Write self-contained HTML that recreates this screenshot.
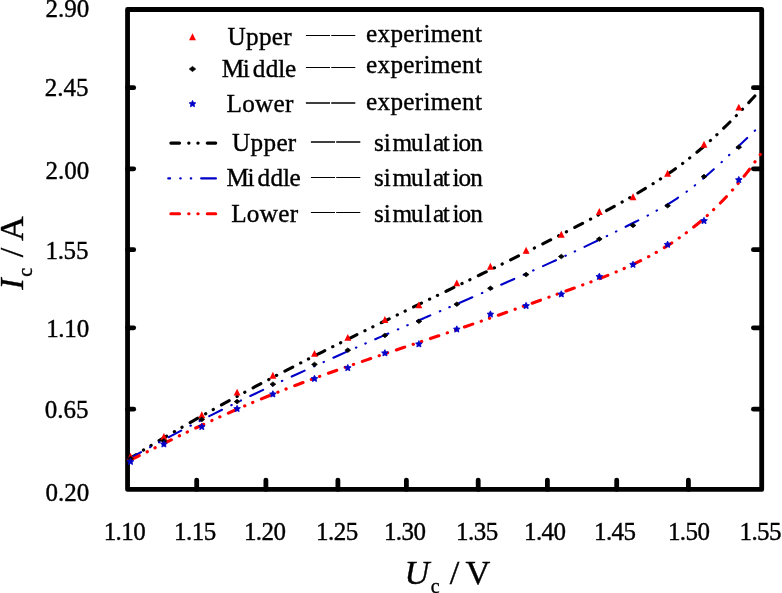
<!DOCTYPE html>
<html><head><meta charset="utf-8"><title>Ic - Uc</title>
<style>html,body{margin:0;padding:0;background:#fff;overflow:hidden;}svg{display:block;will-change:transform;}text{font-family:"Liberation Serif",serif;fill:#000;stroke:#000;stroke-width:0.38px;}</style></head>
<body>
<svg width="782" height="593" viewBox="0 0 782 593">
<rect x="0" y="0" width="782" height="593" fill="#fff"/>
<g fill="none" stroke="#000" stroke-width="4.80" stroke-linecap="round" stroke-linejoin="round">
<rect x="127.55" y="9.50" width="634.15" height="479.90"/>
<path d="M127.55 87.65 H133.70"/>
<path d="M761.70 87.65 H753.40"/>
<path d="M127.55 168.80 H133.70"/>
<path d="M761.70 168.80 H753.40"/>
<path d="M127.55 249.70 H133.70"/>
<path d="M761.70 249.70 H753.40"/>
<path d="M127.55 327.85 H133.70"/>
<path d="M761.70 327.85 H753.40"/>
<path d="M127.55 409.20 H133.70"/>
<path d="M761.70 409.20 H753.40"/>
<path d="M196.70 489.40 V480.10"/>
<path d="M265.90 489.40 V480.10"/>
<path d="M337.90 489.40 V480.10"/>
<path d="M406.40 489.40 V480.10"/>
<path d="M478.20 489.40 V480.10"/>
<path d="M547.40 489.40 V480.10"/>
<path d="M616.70 489.40 V480.10"/>
<path d="M688.40 489.40 V480.10"/>
</g>
<g fill="none" stroke-linecap="round" stroke-linejoin="round">
<path d="M128.50 459.24 C130.84 457.80 137.88 453.46 142.57 450.61 C147.26 447.76 151.94 444.93 156.63 442.14 C161.32 439.34 166.01 436.57 170.70 433.82 C175.39 431.07 180.08 428.35 184.77 425.65 C189.46 422.95 194.14 420.27 198.83 417.61 C203.52 414.96 208.21 412.33 212.90 409.72 C217.59 407.10 222.28 404.51 226.97 401.94 C231.66 399.37 236.34 396.82 241.03 394.28 C245.72 391.75 250.41 389.23 255.10 386.73 C259.79 384.23 264.48 381.75 269.17 379.29 C273.86 376.82 278.54 374.37 283.23 371.94 C287.92 369.50 292.61 367.08 297.30 364.67 C301.99 362.26 306.68 359.87 311.37 357.49 C316.06 355.10 320.74 352.73 325.43 350.37 C330.12 348.01 334.81 345.66 339.50 343.32 C344.19 340.98 348.88 338.66 353.57 336.33 C358.26 334.01 362.94 331.70 367.63 329.39 C372.32 327.09 377.01 324.79 381.70 322.49 C386.39 320.20 391.08 317.91 395.77 315.63 C400.46 313.34 405.14 311.07 409.83 308.79 C414.52 306.51 419.21 304.24 423.90 301.97 C428.59 299.70 433.28 297.43 437.97 295.17 C442.66 292.90 447.34 290.63 452.03 288.37 C456.72 286.10 461.41 283.83 466.10 281.56 C470.79 279.29 475.48 277.02 480.17 274.74 C484.86 272.46 489.54 270.18 494.23 267.88 C498.92 265.59 503.61 263.30 508.30 260.99 C512.99 258.68 517.68 256.37 522.37 254.04 C527.06 251.71 531.74 249.37 536.43 247.02 C541.12 244.66 545.81 242.30 550.50 239.91 C555.19 237.53 559.88 235.13 564.57 232.72 C569.26 230.30 573.94 227.87 578.63 225.41 C583.32 222.96 588.01 220.48 592.70 217.98 C597.39 215.49 602.08 212.97 606.77 210.42 C611.46 207.87 616.14 205.32 620.83 202.70 C625.52 200.08 630.21 197.44 634.90 194.71 C639.59 191.97 644.28 189.19 648.97 186.29 C653.66 183.38 658.34 180.41 663.03 177.28 C667.72 174.15 672.41 170.93 677.10 167.53 C681.79 164.13 686.48 160.60 691.17 156.88 C695.86 153.15 700.54 149.26 705.23 145.18 C709.92 141.09 714.61 136.81 719.30 132.39 C723.99 127.96 728.68 123.36 733.37 118.63 C738.06 113.90 742.74 109.01 747.43 104.03 C752.12 99.04 759.16 91.26 761.50 88.71" stroke="#000" stroke-width="3.1" stroke-dashoffset="0.2" stroke-dasharray="8.85 8.85 0.3 8.45 0.3 9.2"/>
<path d="M128.50 459.22 C130.84 457.91 137.88 453.94 142.57 451.35 C147.26 448.75 151.95 446.19 156.64 443.64 C161.33 441.10 166.02 438.59 170.71 436.10 C175.40 433.61 180.09 431.14 184.78 428.70 C189.47 426.26 194.15 423.84 198.84 421.44 C203.53 419.05 208.22 416.67 212.91 414.32 C217.60 411.97 222.29 409.64 226.98 407.33 C231.67 405.01 236.36 402.72 241.05 400.45 C245.74 398.17 250.43 395.92 255.12 393.68 C259.81 391.44 264.50 389.22 269.19 387.02 C273.88 384.81 278.57 382.62 283.26 380.44 C287.95 378.27 292.64 376.11 297.33 373.96 C302.02 371.81 306.71 369.68 311.40 367.55 C316.09 365.43 320.77 363.32 325.46 361.21 C330.15 359.11 334.84 357.02 339.53 354.94 C344.22 352.86 348.91 350.78 353.60 348.72 C358.29 346.65 362.98 344.60 367.67 342.54 C372.36 340.49 377.05 338.45 381.74 336.41 C386.43 334.37 391.12 332.33 395.81 330.30 C400.50 328.27 405.19 326.24 409.88 324.22 C414.57 322.19 419.26 320.17 423.95 318.15 C428.64 316.13 433.33 314.11 438.02 312.09 C442.71 310.06 447.39 308.04 452.08 306.02 C456.77 304.00 461.46 301.98 466.15 299.95 C470.84 297.92 475.53 295.89 480.22 293.85 C484.91 291.81 489.60 289.77 494.29 287.72 C498.98 285.67 503.67 283.61 508.36 281.54 C513.05 279.48 517.74 277.40 522.43 275.31 C527.12 273.23 531.81 271.13 536.50 269.01 C541.19 266.90 545.88 264.78 550.57 262.64 C555.26 260.50 559.95 258.34 564.64 256.17 C569.33 253.99 574.01 251.81 578.70 249.60 C583.39 247.39 588.08 245.16 592.77 242.91 C597.46 240.66 602.15 238.39 606.84 236.10 C611.53 233.81 616.22 231.49 620.91 229.15 C625.60 226.81 630.29 224.45 634.98 222.06 C639.67 219.66 644.36 217.28 649.05 214.77 C653.74 212.26 658.43 209.74 663.12 206.99 C667.81 204.24 672.50 201.40 677.19 198.27 C681.88 195.14 686.57 191.79 691.26 188.20 C695.95 184.61 700.63 180.71 705.32 176.71 C710.01 172.70 714.70 168.46 719.39 164.17 C724.08 159.88 728.77 155.42 733.46 150.99 C738.15 146.55 742.84 142.01 747.53 137.56 C752.22 133.12 759.26 126.51 761.60 124.30" stroke="#0000c8" stroke-width="2.1" stroke-dasharray="14.25 10.4 0.5 9.8 0.5 10.3"/>
<path d="M128.50 461.11 C130.84 459.93 137.87 456.39 142.56 454.04 C147.25 451.69 151.93 449.34 156.62 447.01 C161.31 444.68 165.99 442.36 170.68 440.07 C175.37 437.77 180.05 435.49 184.74 433.24 C189.43 430.98 194.11 428.75 198.80 426.55 C203.49 424.35 208.17 422.17 212.86 420.03 C217.55 417.88 222.23 415.77 226.92 413.68 C231.61 411.60 236.29 409.55 240.98 407.52 C245.67 405.50 250.35 403.50 255.04 401.54 C259.73 399.58 264.41 397.65 269.10 395.75 C273.79 393.85 278.47 391.98 283.16 390.14 C287.85 388.30 292.53 386.50 297.22 384.72 C301.91 382.94 306.59 381.19 311.28 379.46 C315.97 377.73 320.65 376.03 325.34 374.34 C330.03 372.66 334.71 371.00 339.40 369.35 C344.09 367.70 348.77 366.07 353.46 364.46 C358.15 362.84 362.83 361.24 367.52 359.64 C372.21 358.05 376.89 356.47 381.58 354.89 C386.27 353.31 390.95 351.74 395.64 350.17 C400.33 348.61 405.01 347.04 409.70 345.48 C414.39 343.91 419.07 342.35 423.76 340.78 C428.45 339.21 433.13 337.64 437.82 336.06 C442.51 334.48 447.19 332.90 451.88 331.30 C456.57 329.70 461.25 328.09 465.94 326.48 C470.63 324.86 475.31 323.24 480.00 321.61 C484.69 319.98 489.37 318.34 494.06 316.69 C498.75 315.05 503.43 313.39 508.12 311.74 C512.81 310.08 517.49 308.41 522.18 306.74 C526.87 305.07 531.55 303.40 536.24 301.72 C540.93 300.04 545.61 298.36 550.30 296.67 C554.99 294.99 559.67 293.30 564.36 291.60 C569.05 289.91 573.73 288.23 578.42 286.51 C583.11 284.80 587.79 283.10 592.48 281.33 C597.17 279.56 601.85 277.77 606.54 275.89 C611.23 274.02 615.91 272.09 620.60 270.06 C625.29 268.02 629.97 265.91 634.66 263.66 C639.35 261.41 644.03 259.06 648.72 256.55 C653.41 254.03 658.09 251.40 662.78 248.57 C667.47 245.73 672.15 242.76 676.84 239.54 C681.53 236.33 686.21 232.94 690.90 229.29 C695.59 225.63 700.27 221.77 704.96 217.62 C709.65 213.46 714.33 209.07 719.02 204.36 C723.71 199.64 728.39 194.66 733.08 189.33 C737.77 183.99 742.45 178.36 747.14 172.35 C751.83 166.33 758.86 156.43 761.20 153.24" stroke="#ff0000" stroke-width="3.1" stroke-dashoffset="-3.1" stroke-dasharray="8.85 8.85 0.3 8.45 0.3 9.16"/>
</g>
<g>
<path d="M130.50 452.85 L133.95 459.75 L127.05 459.75 Z" fill="#ff0000"/>
<path d="M163.90 432.95 L167.35 439.85 L160.45 439.85 Z" fill="#ff0000"/>
<path d="M201.80 411.25 L205.25 418.15 L198.35 418.15 Z" fill="#ff0000"/>
<path d="M237.10 388.65 L240.55 395.55 L233.65 395.55 Z" fill="#ff0000"/>
<path d="M272.90 371.85 L276.35 378.75 L269.45 378.75 Z" fill="#ff0000"/>
<path d="M314.50 349.95 L317.95 356.85 L311.05 356.85 Z" fill="#ff0000"/>
<path d="M347.80 333.95 L351.25 340.85 L344.35 340.85 Z" fill="#ff0000"/>
<path d="M384.90 316.05 L388.35 322.95 L381.45 322.95 Z" fill="#ff0000"/>
<path d="M418.90 301.45 L422.35 308.35 L415.45 308.35 Z" fill="#ff0000"/>
<path d="M456.80 279.45 L460.25 286.35 L453.35 286.35 Z" fill="#ff0000"/>
<path d="M490.40 262.75 L493.85 269.65 L486.95 269.65 Z" fill="#ff0000"/>
<path d="M526.10 246.75 L529.55 253.65 L522.65 253.65 Z" fill="#ff0000"/>
<path d="M561.30 230.85 L564.75 237.75 L557.85 237.75 Z" fill="#ff0000"/>
<path d="M599.30 208.05 L602.75 214.95 L595.85 214.95 Z" fill="#ff0000"/>
<path d="M633.00 193.35 L636.45 200.25 L629.55 200.25 Z" fill="#ff0000"/>
<path d="M667.60 169.85 L671.05 176.75 L664.15 176.75 Z" fill="#ff0000"/>
<path d="M704.00 140.75 L707.45 147.65 L700.55 147.65 Z" fill="#ff0000"/>
<path d="M738.80 103.65 L742.25 110.55 L735.35 110.55 Z" fill="#ff0000"/>
<path d="M130.50 456.25 L133.35 458.50 L130.50 460.75 L127.65 458.50 Z" fill="#000" stroke="#000" stroke-width="0.8" stroke-linejoin="round"/>
<path d="M163.90 438.65 L166.75 440.90 L163.90 443.15 L161.05 440.90 Z" fill="#000" stroke="#000" stroke-width="0.8" stroke-linejoin="round"/>
<path d="M201.80 417.15 L204.65 419.40 L201.80 421.65 L198.95 419.40 Z" fill="#000" stroke="#000" stroke-width="0.8" stroke-linejoin="round"/>
<path d="M237.10 399.35 L239.95 401.60 L237.10 403.85 L234.25 401.60 Z" fill="#000" stroke="#000" stroke-width="0.8" stroke-linejoin="round"/>
<path d="M272.90 381.95 L275.75 384.20 L272.90 386.45 L270.05 384.20 Z" fill="#000" stroke="#000" stroke-width="0.8" stroke-linejoin="round"/>
<path d="M314.50 362.15 L317.35 364.40 L314.50 366.65 L311.65 364.40 Z" fill="#000" stroke="#000" stroke-width="0.8" stroke-linejoin="round"/>
<path d="M347.80 347.95 L350.65 350.20 L347.80 352.45 L344.95 350.20 Z" fill="#000" stroke="#000" stroke-width="0.8" stroke-linejoin="round"/>
<path d="M384.90 333.15 L387.75 335.40 L384.90 337.65 L382.05 335.40 Z" fill="#000" stroke="#000" stroke-width="0.8" stroke-linejoin="round"/>
<path d="M418.90 319.05 L421.75 321.30 L418.90 323.55 L416.05 321.30 Z" fill="#000" stroke="#000" stroke-width="0.8" stroke-linejoin="round"/>
<path d="M456.80 301.95 L459.65 304.20 L456.80 306.45 L453.95 304.20 Z" fill="#000" stroke="#000" stroke-width="0.8" stroke-linejoin="round"/>
<path d="M490.40 286.05 L493.25 288.30 L490.40 290.55 L487.55 288.30 Z" fill="#000" stroke="#000" stroke-width="0.8" stroke-linejoin="round"/>
<path d="M526.10 272.35 L528.95 274.60 L526.10 276.85 L523.25 274.60 Z" fill="#000" stroke="#000" stroke-width="0.8" stroke-linejoin="round"/>
<path d="M561.30 254.25 L564.15 256.50 L561.30 258.75 L558.45 256.50 Z" fill="#000" stroke="#000" stroke-width="0.8" stroke-linejoin="round"/>
<path d="M599.30 236.85 L602.15 239.10 L599.30 241.35 L596.45 239.10 Z" fill="#000" stroke="#000" stroke-width="0.8" stroke-linejoin="round"/>
<path d="M633.00 223.15 L635.85 225.40 L633.00 227.65 L630.15 225.40 Z" fill="#000" stroke="#000" stroke-width="0.8" stroke-linejoin="round"/>
<path d="M667.60 203.45 L670.45 205.70 L667.60 207.95 L664.75 205.70 Z" fill="#000" stroke="#000" stroke-width="0.8" stroke-linejoin="round"/>
<path d="M704.00 174.35 L706.85 176.60 L704.00 178.85 L701.15 176.60 Z" fill="#000" stroke="#000" stroke-width="0.8" stroke-linejoin="round"/>
<path d="M738.80 144.95 L741.65 147.20 L738.80 149.45 L735.95 147.20 Z" fill="#000" stroke="#000" stroke-width="0.8" stroke-linejoin="round"/>
<path d="M130.50 458.23 L131.53 460.32 L133.83 460.65 L132.16 462.28 L132.56 464.57 L130.50 463.48 L128.44 464.57 L128.84 462.28 L127.17 460.65 L129.47 460.32 Z" fill="#0000c8" stroke="#0000c8" stroke-width="0.8" stroke-linejoin="round"/>
<path d="M163.90 440.73 L164.93 442.82 L167.23 443.15 L165.56 444.78 L165.96 447.07 L163.90 445.98 L161.84 447.07 L162.24 444.78 L160.57 443.15 L162.87 442.82 Z" fill="#0000c8" stroke="#0000c8" stroke-width="0.8" stroke-linejoin="round"/>
<path d="M201.80 423.33 L202.83 425.42 L205.13 425.75 L203.46 427.38 L203.86 429.67 L201.80 428.58 L199.74 429.67 L200.14 427.38 L198.47 425.75 L200.77 425.42 Z" fill="#0000c8" stroke="#0000c8" stroke-width="0.8" stroke-linejoin="round"/>
<path d="M237.10 405.33 L238.13 407.42 L240.43 407.75 L238.76 409.38 L239.16 411.67 L237.10 410.58 L235.04 411.67 L235.44 409.38 L233.77 407.75 L236.07 407.42 Z" fill="#0000c8" stroke="#0000c8" stroke-width="0.8" stroke-linejoin="round"/>
<path d="M272.90 390.73 L273.93 392.82 L276.23 393.15 L274.56 394.78 L274.96 397.07 L272.90 395.98 L270.84 397.07 L271.24 394.78 L269.57 393.15 L271.87 392.82 Z" fill="#0000c8" stroke="#0000c8" stroke-width="0.8" stroke-linejoin="round"/>
<path d="M314.50 375.23 L315.53 377.32 L317.83 377.65 L316.16 379.28 L316.56 381.57 L314.50 380.48 L312.44 381.57 L312.84 379.28 L311.17 377.65 L313.47 377.32 Z" fill="#0000c8" stroke="#0000c8" stroke-width="0.8" stroke-linejoin="round"/>
<path d="M347.80 364.43 L348.83 366.52 L351.13 366.85 L349.46 368.48 L349.86 370.77 L347.80 369.68 L345.74 370.77 L346.14 368.48 L344.47 366.85 L346.77 366.52 Z" fill="#0000c8" stroke="#0000c8" stroke-width="0.8" stroke-linejoin="round"/>
<path d="M384.90 349.63 L385.93 351.72 L388.23 352.05 L386.56 353.68 L386.96 355.97 L384.90 354.88 L382.84 355.97 L383.24 353.68 L381.57 352.05 L383.87 351.72 Z" fill="#0000c8" stroke="#0000c8" stroke-width="0.8" stroke-linejoin="round"/>
<path d="M418.90 340.63 L419.93 342.72 L422.23 343.05 L420.56 344.68 L420.96 346.97 L418.90 345.88 L416.84 346.97 L417.24 344.68 L415.57 343.05 L417.87 342.72 Z" fill="#0000c8" stroke="#0000c8" stroke-width="0.8" stroke-linejoin="round"/>
<path d="M456.80 325.83 L457.83 327.92 L460.13 328.25 L458.46 329.88 L458.86 332.17 L456.80 331.08 L454.74 332.17 L455.14 329.88 L453.47 328.25 L455.77 327.92 Z" fill="#0000c8" stroke="#0000c8" stroke-width="0.8" stroke-linejoin="round"/>
<path d="M490.40 310.83 L491.43 312.92 L493.73 313.25 L492.06 314.88 L492.46 317.17 L490.40 316.08 L488.34 317.17 L488.74 314.88 L487.07 313.25 L489.37 312.92 Z" fill="#0000c8" stroke="#0000c8" stroke-width="0.8" stroke-linejoin="round"/>
<path d="M526.10 302.33 L527.13 304.42 L529.43 304.75 L527.76 306.38 L528.16 308.67 L526.10 307.58 L524.04 308.67 L524.44 306.38 L522.77 304.75 L525.07 304.42 Z" fill="#0000c8" stroke="#0000c8" stroke-width="0.8" stroke-linejoin="round"/>
<path d="M561.30 290.73 L562.33 292.82 L564.63 293.15 L562.96 294.78 L563.36 297.07 L561.30 295.98 L559.24 297.07 L559.64 294.78 L557.97 293.15 L560.27 292.82 Z" fill="#0000c8" stroke="#0000c8" stroke-width="0.8" stroke-linejoin="round"/>
<path d="M599.30 273.13 L600.33 275.22 L602.63 275.55 L600.96 277.18 L601.36 279.47 L599.30 278.38 L597.24 279.47 L597.64 277.18 L595.97 275.55 L598.27 275.22 Z" fill="#0000c8" stroke="#0000c8" stroke-width="0.8" stroke-linejoin="round"/>
<path d="M633.00 261.13 L634.03 263.22 L636.33 263.55 L634.66 265.18 L635.06 267.47 L633.00 266.38 L630.94 267.47 L631.34 265.18 L629.67 263.55 L631.97 263.22 Z" fill="#0000c8" stroke="#0000c8" stroke-width="0.8" stroke-linejoin="round"/>
<path d="M667.60 241.13 L668.63 243.22 L670.93 243.55 L669.26 245.18 L669.66 247.47 L667.60 246.38 L665.54 247.47 L665.94 245.18 L664.27 243.55 L666.57 243.22 Z" fill="#0000c8" stroke="#0000c8" stroke-width="0.8" stroke-linejoin="round"/>
<path d="M704.00 217.33 L705.03 219.42 L707.33 219.75 L705.66 221.38 L706.06 223.67 L704.00 222.58 L701.94 223.67 L702.34 221.38 L700.67 219.75 L702.97 219.42 Z" fill="#0000c8" stroke="#0000c8" stroke-width="0.8" stroke-linejoin="round"/>
<path d="M738.80 176.43 L739.83 178.52 L742.13 178.85 L740.46 180.48 L740.86 182.77 L738.80 181.68 L736.74 182.77 L737.14 180.48 L735.47 178.85 L737.77 178.52 Z" fill="#0000c8" stroke="#0000c8" stroke-width="0.8" stroke-linejoin="round"/>
</g>
<g font-size="25.00">
<text x="89.20" y="17.00" text-anchor="end">2.90</text>
<text x="88.50" y="95.60" text-anchor="end">2.45</text>
<text x="89.20" y="178.60" text-anchor="end">2.00</text>
<text x="88.50" y="258.60" text-anchor="end" dx="0 -0.4 -0.4 0">1.55</text>
<text x="89.20" y="336.60" text-anchor="end" dx="0 -0.4 -0.4 0">1.10</text>
<text x="88.50" y="417.60" text-anchor="end">0.65</text>
<text x="89.20" y="500.80" text-anchor="end">0.20</text>
<text x="124.70" y="539.70" text-anchor="middle" dx="0 -0.6 -0.6 -0.5">1.10</text>
<text x="195.10" y="539.70" text-anchor="middle" dx="0 -0.6 -0.6 -0.5">1.15</text>
<text x="264.90" y="539.70" text-anchor="middle" dx="0 -0.6 -0.6 -0.5">1.20</text>
<text x="337.10" y="539.70" text-anchor="middle" dx="0 -0.6 -0.6 -0.5">1.25</text>
<text x="404.90" y="539.70" text-anchor="middle" dx="0 -0.6 -0.6 -0.5">1.30</text>
<text x="477.10" y="539.70" text-anchor="middle" dx="0 -0.6 -0.6 -0.5">1.35</text>
<text x="545.00" y="539.70" text-anchor="middle" dx="0 -0.6 -0.6 -0.5">1.40</text>
<text x="615.00" y="539.70" text-anchor="middle" dx="0 -0.6 -0.6 -0.5">1.45</text>
<text x="688.90" y="539.70" text-anchor="middle" dx="0 -0.6 -0.6 -0.5">1.50</text>
<text x="760.60" y="539.70" text-anchor="middle" dx="0 -0.6 -0.6 -0.5">1.55</text>
</g>
<text x="404.6" y="584" font-size="34.4"><tspan font-style="italic">U</tspan><tspan font-size="20" dy="9" dx="1.4">c</tspan><tspan dy="-9" dx="1.5"> /</tspan><tspan dx="-1.8"> V</tspan></text>
<text transform="translate(23.2 289.7) rotate(-90)" font-size="34.4"><tspan font-style="italic">I</tspan><tspan font-size="20" dy="9" dx="1.6">c</tspan><tspan dy="-9" dx="1.9"> / A</tspan></text>
<g font-size="25.20">
<text x="259.75" y="44.50" text-anchor="middle" letter-spacing="0.3">Upper</text>
<path d="M305.90 35.50 h24.1 m1.2 0 h24.1" stroke="#000" stroke-width="1.1" fill="none"/>
<text x="424.14" y="42.00" text-anchor="middle" letter-spacing="0.28">experiment</text>
<text x="259.05" y="77.00" text-anchor="middle" letter-spacing="0.3" dx="0 -1.6 2.7 0 -0.4 -0.7">Middle</text>
<path d="M305.90 67.50 h24.1 m1.2 0 h24.1" stroke="#000" stroke-width="1.1" fill="none"/>
<text x="424.14" y="73.00" text-anchor="middle" letter-spacing="0.28">experiment</text>
<text x="260.15" y="112.20" text-anchor="middle" letter-spacing="0.3">Lower</text>
<path d="M305.90 103.00 h24.1 m1.2 0 h24.1" stroke="#000" stroke-width="1.3" fill="none"/>
<text x="424.14" y="110.40" text-anchor="middle" letter-spacing="0.28">experiment</text>
<text x="264.35" y="150.70" text-anchor="middle" letter-spacing="0.3">Upper</text>
<path d="M310.90 142.00 h24.1 m1.2 0 h24.1" stroke="#000" stroke-width="1.3" fill="none"/>
<text x="373.9 383.8 392.5 411.0 424.6 432.95 442.75 452.6 458.6 470.25" y="150.70">simulation</text>
<text x="263.75" y="186.30" text-anchor="middle" letter-spacing="0.3" dx="0 -1.6 2.7 0 -0.4 -0.7">Middle</text>
<path d="M310.90 177.50 h24.1 m1.2 0 h24.1" stroke="#000" stroke-width="1.1" fill="none"/>
<text x="373.9 383.8 392.5 411.0 424.6 432.95 442.75 452.6 458.6 470.25" y="186.00">simulation</text>
<text x="264.75" y="221.50" text-anchor="middle" letter-spacing="0.3">Lower</text>
<path d="M310.90 212.50 h24.1 m1.2 0 h24.1" stroke="#000" stroke-width="1.1" fill="none"/>
<text x="373.9 383.8 392.5 411.0 424.6 432.95 442.75 452.6 458.6 470.25" y="221.50">simulation</text>
</g>
<path d="M192.50 33.25 L195.95 40.15 L189.05 40.15 Z" fill="#ff0000"/>
<path d="M192.50 66.45 L195.70 69.00 L192.50 71.55 L189.30 69.00 Z" fill="#000" stroke="#000" stroke-width="0.8" stroke-linejoin="round"/>
<path d="M192.50 100.43 L193.53 102.52 L195.83 102.85 L194.16 104.48 L194.56 106.77 L192.50 105.68 L190.44 106.77 L190.84 104.48 L189.17 102.85 L191.47 102.52 Z" fill="#0000c8" stroke="#0000c8" stroke-width="0.8" stroke-linejoin="round"/>
<g fill="none" stroke-linecap="round">
<path d="M170.85 143.1 H179.55 M188.7 143.1 h0.3 M197.85 143.1 h0.3 M207.25 143.1 H215.75" stroke="#000" stroke-width="3.1"/>
<path d="M168.3 178.4 H170.1 M180.3 178.4 h0.4 M190.8 178.4 h0.4 M201.2 178.4 H215.9" stroke="#0000c8" stroke-width="2.2"/>
<path d="M170.85 213.7 H179.55 M188.7 213.7 h0.3 M197.85 213.7 h0.3 M207.25 213.7 H215.75" stroke="#ff0000" stroke-width="3.1"/>
</g>
</svg></body></html>
